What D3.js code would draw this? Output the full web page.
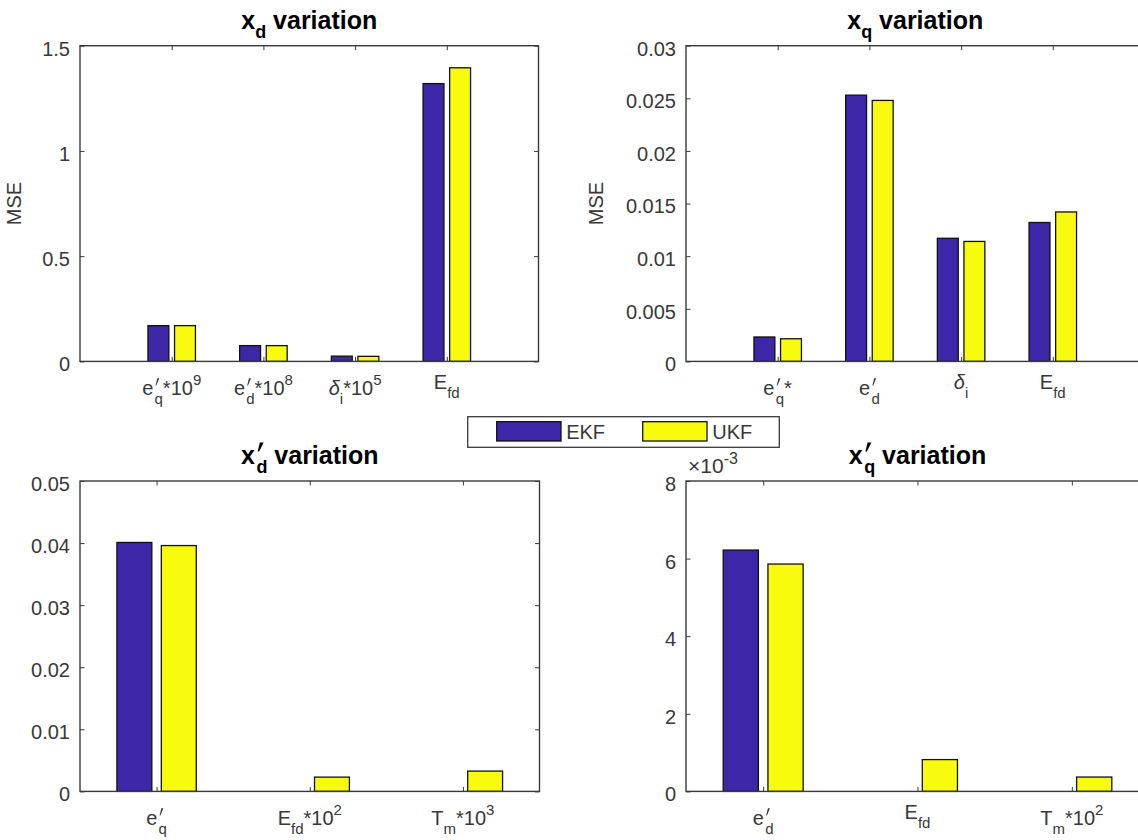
<!DOCTYPE html>
<html>
<head>
<meta charset="utf-8">
<script src="https://cdn.jsdelivr.net/npm/d3@7"></script>
<style>
  html, body { margin: 0; padding: 0; background: #fff; overflow: hidden; }
  svg { display: block; }
</style>
</head>
<body>
<svg id="fig" width="1138" height="840"></svg>
<script>
// ---- series ----
const seriesNames = ["EKF", "UKF"];
const seriesColors = ["#3e26a8", "#f9fb0e"];

// ---- x_d variation ----
const xdCats = ["e'_q*10^9", "e'_d*10^8", "\\delta_i*10^5", "E_{fd}"];
const xdEKF = [0.17, 0.075, 0.025, 1.32];
const xdUKF = [0.17, 0.075, 0.024, 1.395];
const xdTicks = [0, 0.5, 1, 1.5];
const xdTickLabels = ["0", "0.5", "1", "1.5"];

// ---- x_q variation ----
const xqCats = ["e'_q*", "e'_d", "\\delta_i", "E_{fd}"];
const xqEKF = [0.00232, 0.0253, 0.0117, 0.0132];
const xqUKF = [0.00215, 0.0248, 0.0114, 0.0142];
const xqTicks = [0, 0.005, 0.01, 0.015, 0.02, 0.025, 0.03];
const xqTickLabels = ["0", "0.005", "0.01", "0.015", "0.02", "0.025", "0.03"];

// ---- x'_d variation ----
const xdpCats = ["e'_q", "E_{fd}*10^2", "T_m*10^3"];
const xdpEKF = [0.0401, 0, 0];
const xdpUKF = [0.0396, 0.0023, 0.00327];
const xdpTicks = [0, 0.01, 0.02, 0.03, 0.04, 0.05];
const xdpTickLabels = ["0", "0.01", "0.02", "0.03", "0.04", "0.05"];

// ---- x'_q variation ----
const xqpCats = ["e'_d", "E_{fd}", "T_m*10^2"];
const xqpEKF = [0.00622, 0, 0];
const xqpUKF = [0.00586, 0.00082, 0.00037];
const xqpTicks = [0, 0.002, 0.004, 0.006, 0.008];
const xqpTickLabels = ["0", "2", "4", "6", "8"];

const FONT = "'Liberation Sans', Arial, Helvetica, sans-serif";
const AXIS_COLOR = "#3a3a3a";
const TEXT_COLOR = "#383838";
const TICK_LEN = 4.5;
const BAR_WIDTH = 0.228;      // in category units
const BAR_OFFSET = 0.145;     // half distance between paired bars

const panels = [
  { title: "x_d variation", cats: xdCats, vals: [xdEKF, xdUKF], ticks: xdTicks, tickLabels: xdTickLabels,
    yMax: 1.5, xDomain: [0, 5], box: [80, 45.7, 538.5, 361.4], ylabel: "MSE", ylabelX: 21 },
  { title: "x_q variation", cats: xqCats, vals: [xqEKF, xqUKF], ticks: xqTicks, tickLabels: xqTickLabels,
    yMax: 0.03, xDomain: [0, 5], box: [686, 45.7, 1144.5, 361.4], ylabel: "MSE", ylabelX: 603 },
  { title: "x'_d variation", cats: xdpCats, vals: [xdpEKF, xdpUKF], ticks: xdpTicks, tickLabels: xdpTickLabels,
    yMax: 0.05, xDomain: [0.5, 3.5], box: [80, 481, 539.5, 791.4] },
  { title: "x'_q variation", cats: xqpCats, vals: [xqpEKF, xqpUKF], ticks: xqpTicks, tickLabels: xqpTickLabels,
    yMax: 0.008, xDomain: [0.5, 3.5], box: [686, 481, 1149, 791.4], exponent: "\u00d710^{-3}" }
];

// Split a small TeX-like string into runs: normal text, sub/superscripts and primes.
function texSegments(s) {
  const segs = [];
  let i = 0;
  while (i < s.length) {
    const c = s[i];
    if (c === "'") { segs.push({ t: "", mode: "prime" }); i++; }
    else if (c === "_" || c === "^") {
      const mode = c === "_" ? "sub" : "sup";
      i++;
      let t;
      if (s[i] === "{") { const j = s.indexOf("}", i); t = s.slice(i + 1, j); i = j + 1; }
      else { t = s[i]; i++; }
      segs.push({ t, mode });
    }
    else if (s.startsWith("\\delta", i)) { segs.push({ t: "\u03b4", mode: "normal", italic: true }); i += 6; }
    else {
      let j = i;
      while (j < s.length && !"'_^\\".includes(s[j])) j++;
      segs.push({ t: s.slice(i, j), mode: "normal" });
      i = j;
    }
  }
  return segs;
}

function hasRaised(s) { return texSegments(s).some(d => d.mode === "sup" || d.mode === "prime"); }

// Draw a TeX-like label; anchor "middle" centres it on x, "start" begins at x.
// Primes are drawn as small slanted strokes above the following subscript.
function drawTex(parent, str, o) {
  const t = parent.append("text")
    .attr("x", 0).attr("y", o.y)
    .attr("font-family", FONT)
    .attr("font-size", o.size)
    .attr("font-weight", o.weight || "normal")
    .attr("fill", o.fill || TEXT_COLOR);
  let shift = 0, primePending = false;
  const primeNodes = [];
  texSegments(str).forEach(seg => {
    if (seg.mode === "prime") { primePending = true; return; }
    let target = 0, fs = o.size;
    if (seg.mode === "sub") { target = o.drop; fs = o.small; }
    else if (seg.mode === "sup") { target = -o.rise; fs = o.small; }
    const ts = t.append("tspan").attr("font-size", fs).attr("dy", target - shift).text(seg.t);
    if (seg.italic) ts.attr("font-style", "italic");
    if (primePending) {
      ts.attr("dx", o.size * 0.06);
      primeNodes.push(ts.node());
      primePending = false;
    }
    shift = target;
  });
  const bb = t.node().getBBox();
  const x = o.anchor === "start" ? o.x - bb.x : o.x - bb.x - bb.width / 2;
  t.attr("x", x);
  const s = o.size, k = o.weight === "bold" ? 1.5 : 1;
  primeNodes.forEach(node => {
    const px = node.getStartPositionOfChar(0).x;
    const yb = o.y;
    const pts = [
      [px + 0.14 * s, yb - 0.86 * s],
      [px + (0.14 + 0.10 * k) * s, yb - 0.86 * s],
      [px + (0.05 + 0.04 * k) * s, yb - 0.50 * s],
      [px + 0.05 * s, yb - 0.50 * s]
    ];
    parent.append("path")
      .attr("d", "M" + pts.map(p => p.join(",")).join("L") + "Z")
      .attr("fill", o.fill || TEXT_COLOR);
  });
  return t;
}

const svg = d3.select("#fig");

panels.forEach(p => {
  const [x0, y0, x1, y1] = p.box;
  const x = d3.scaleLinear().domain(p.xDomain).range([x0, x1]);
  const y = d3.scaleLinear().domain([0, p.yMax]).range([y1, y0]);
  const g = svg.append("g");
  const positions = p.cats.map((c, i) => i + 1);

  // bars
  p.vals.forEach((series, si) => {
    const off = (si === 0 ? -1 : 1) * BAR_OFFSET;
    g.append("g").selectAll("rect")
      .data(series.map((v, i) => ({ pos: positions[i], v })).filter(d => d.v > 0))
      .join("rect")
      .attr("x", d => x(d.pos + off - BAR_WIDTH / 2))
      .attr("width", d => x(d.pos + off + BAR_WIDTH / 2) - x(d.pos + off - BAR_WIDTH / 2))
      .attr("y", d => y(d.v))
      .attr("height", d => y(0) - y(d.v))
      .attr("fill", seriesColors[si])
      .attr("stroke", "#111")
      .attr("stroke-width", 1.3);
  });

  // left axis with labels, ticks pointing inward
  const yAxis = g.append("g").attr("transform", `translate(${x0},0)`)
    .call(d3.axisLeft(y).tickValues(p.ticks).tickFormat((d, i) => p.tickLabels[i])
      .tickSizeInner(-TICK_LEN).tickSizeOuter(0).tickPadding(10));
  yAxis.select(".domain").remove();
  yAxis.selectAll("line").attr("stroke", AXIS_COLOR);
  yAxis.selectAll("text").attr("font-family", FONT).attr("font-size", 20)
    .attr("fill", TEXT_COLOR).attr("y", 3);

  // mirrored right-hand ticks
  const yAxisR = g.append("g").attr("transform", `translate(${x1},0)`)
    .call(d3.axisRight(y).tickValues(p.ticks).tickFormat("").tickSizeInner(-TICK_LEN).tickSizeOuter(0));
  yAxisR.select(".domain").remove();
  yAxisR.selectAll("line").attr("stroke", AXIS_COLOR);

  // category ticks on bottom and top edges
  const xAxisB = g.append("g").attr("transform", `translate(0,${y1})`)
    .call(d3.axisBottom(x).tickValues(positions).tickFormat("").tickSizeInner(-TICK_LEN).tickSizeOuter(0));
  xAxisB.select(".domain").remove();
  xAxisB.selectAll("line").attr("stroke", AXIS_COLOR);
  const xAxisT = g.append("g").attr("transform", `translate(0,${y0})`)
    .call(d3.axisTop(x).tickValues(positions).tickFormat("").tickSizeInner(-TICK_LEN).tickSizeOuter(0));
  xAxisT.select(".domain").remove();
  xAxisT.selectAll("line").attr("stroke", AXIS_COLOR);

  // frame
  g.append("rect").attr("x", x0).attr("y", y0).attr("width", x1 - x0).attr("height", y1 - y0)
    .attr("fill", "none").attr("stroke", AXIS_COLOR).attr("stroke-width", 1.4);

  // category labels
  p.cats.forEach((c, i) => {
    drawTex(g, c, { x: x(positions[i]), y: y1 + 28 + (hasRaised(c) ? 6 : 0),
      size: 20, small: 15, drop: 9, rise: 10, anchor: "middle" });
  });

  // title
  drawTex(g, p.title, { x: (x0 + x1) / 2, y: y0 - 17, size: 25, small: 18, drop: 9, rise: 11,
    weight: "bold", fill: "#000", anchor: "middle" });

  // y label
  if (p.ylabel) {
    g.append("text")
      .attr("transform", `translate(${p.ylabelX},${(y0 + y1) / 2}) rotate(-90)`)
      .attr("text-anchor", "middle")
      .attr("font-family", FONT).attr("font-size", 20).attr("fill", TEXT_COLOR)
      .text(p.ylabel);
  }

  // axis multiplier
  if (p.exponent) {
    drawTex(g, p.exponent, { x: x0 + 2, y: y0 - 8, size: 21, small: 16, drop: 8, rise: 9, anchor: "start" });
  }
});

// legend
const legend = svg.append("g");
legend.append("rect").attr("x", 467.7).attr("y", 416.7).attr("width", 311.6).attr("height", 30.6)
  .attr("fill", "#fff").attr("stroke", AXIS_COLOR).attr("stroke-width", 1.3);
const legendX = [496.7, 642.7];
seriesNames.forEach((name, i) => {
  legend.append("rect").attr("x", legendX[i]).attr("y", 421.7).attr("width", 64.3).attr("height", 19.3)
    .attr("fill", seriesColors[i]).attr("stroke", "#111").attr("stroke-width", 1.3);
  legend.append("text").attr("x", legendX[i] + 69.5).attr("y", 438.5)
    .attr("font-family", FONT).attr("font-size", 20).attr("fill", TEXT_COLOR).text(name);
});
</script>
</body>
</html>
